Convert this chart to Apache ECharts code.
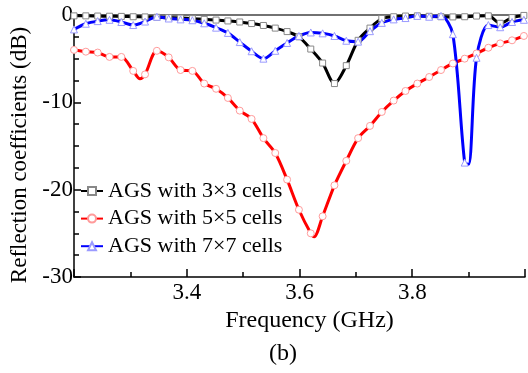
<!DOCTYPE html>
<html>
<head>
<meta charset="utf-8">
<script src="https://cdn.jsdelivr.net/npm/echarts@6/dist/echarts.min.js"></script>
<style>
html,body{margin:0;padding:0;background:#fff;}
#chart{width:528px;height:373px;}
</style>
</head>
<body>
<div id="chart"></div>
<script>
// Frequency grid (GHz) at the marker positions
const freqGrid = [3.200, 3.221, 3.242, 3.263, 3.284, 3.305, 3.326, 3.347, 3.368, 3.389,
  3.410, 3.431, 3.452, 3.473, 3.494, 3.515, 3.536, 3.557, 3.578, 3.599,
  3.620, 3.641, 3.662, 3.683, 3.704, 3.725, 3.746, 3.767, 3.788, 3.809,
  3.830, 3.851, 3.872, 3.893, 3.914, 3.935, 3.956, 3.977, 3.998];

// Reflection coefficients (dB)
const db3x3 = [-0.1, -0.1, -0.12, -0.14, -0.16, -0.2, -0.22, -0.26, -0.3, -0.35,
  -0.42, -0.5, -0.58, -0.68, -0.8, -0.98, -1.2, -1.5, -1.9, -2.5,
  -3.9, -5.5, -7.85, -5.8, -2.9, -1.5, -0.4, -0.2, -0.12, -0.1,
  -0.15, -0.2, -0.22, -0.2, -0.12, -0.1, -0.95, -0.3, -0.05];

const db5x5 = [-4.0, -4.2, -4.3, -4.8, -4.8, -6.4, -6.8, -4.1, -4.85, -6.3,
  -6.4, -7.85, -8.45, -9.5, -10.95, -11.9, -14.1, -15.8, -18.85, -22.3,
  -25.0, -23.05, -19.5, -16.7, -14.1, -12.7, -11.1, -9.8, -8.7, -7.85,
  -7.1, -6.3, -5.55, -5.0, -4.4, -3.75, -3.25, -2.9, -2.4];

const db7x7 = [-1.65, -1.0, -0.7, -0.55, -0.8, -1.15, -0.75, -0.2, -0.4, -0.5,
  -0.6, -0.95, -1.45, -2.05, -3.1, -4.15, -5.0, -4.1, -3.2, -2.4,
  -2.0, -2.1, -2.4, -2.95, -3.05, -1.85, -0.9, -0.5, -0.35, -0.1,
  -0.2, -0.1, -2.2, -16.9, -4.9, -1.15, -1.4, -0.8, -0.55];

// Extra curve points between markers (line only)
const extraFreq5x5 = [3.317, 3.626];
const extraDb5x5 = [-7.3, -25.4];
const extraFreq7x7 = [3.900];
const extraDb7x7 = [-17.1];

const seriesNames = ['AGS with 3×3 cells', 'AGS with 5×5 cells', 'AGS with 7×7 cells'];
const xTicks = [3.4, 3.6, 3.8];
const yTicks = [0, -10, -20, -30];

function build(dbs, exF, exD) {
  const pts = freqGrid.map((f, i) => ({ value: [f, dbs[i]] }));
  (exF || []).forEach((f, i) => pts.push({ value: [f, exD[i]], symbolSize: 0 }));
  pts.sort((a, b) => a.value[0] - b.value[0]);
  return pts;
}

const FONT = 'Liberation Serif';
const chart = echarts.init(document.getElementById('chart'));

function lineSeries(name, data, color, symbol, symColor, size) {
  return {
    name: name, type: 'line', data: data, smooth: 0.3,
    showAllSymbol: true, symbol: symbol, symbolSize: size,
    lineStyle: { color: color, width: 3 },
    itemStyle: { color: '#fff', borderColor: symColor, borderWidth: 1 },
    emphasis: { disabled: true },
    animation: false
  };
}

chart.setOption({
  animation: false,
  grid: { left: 73, right: 1, top: 15, bottom: 96 },
  legend: {
    left: 75, top: 175, orient: 'vertical',
    itemWidth: 22, itemHeight: 10, itemGap: 5.6,
    textStyle: { fontFamily: FONT, fontSize: 22, color: '#000', lineHeight: 22 },
    data: seriesNames.map(n => ({ name: n }))
  },
  xAxis: [{
    type: 'value', min: 3.2, max: 4.0, interval: 0.2,
    name: 'Frequency (GHz)', nameLocation: 'middle', nameGap: 32,
    nameTextStyle: { fontFamily: FONT, fontSize: 24, color: '#000', padding: [0, 0, 0, 20] },
    axisLine: { onZero: false, lineStyle: { color: '#000', width: 1.5 } },
    axisTick: { inside: true, length: 8, lineStyle: { color: '#000', width: 1.5 } },
    minorTick: { show: true, splitNumber: 2, length: 5, lineStyle: { color: '#000', width: 1.5 } },
    splitLine: { show: false },
    axisLabel: {
      fontFamily: FONT, fontSize: 23, color: '#000', margin: 4,
      formatter: v => { const t = xTicks.find(x => Math.abs(x - v) < 1e-6); return t === undefined ? '' : t.toFixed(1); }
    }
  }, {
    type: 'value', position: 'top', min: 3.2, max: 4.0,
    axisLine: { show: true, lineStyle: { color: '#444', width: 1.5 } },
    axisTick: { show: false }, axisLabel: { show: false }, splitLine: { show: false }
  }],
  yAxis: {
    type: 'value', min: -30, max: 0, interval: 10,
    name: 'Reflection coefficients (dB)', nameLocation: 'middle', nameGap: 43,
    nameTextStyle: { fontFamily: FONT, fontSize: 23, color: '#000', padding: [0, 18, 0, 0] },
    axisLine: { onZero: false, lineStyle: { color: '#000', width: 1.5 } },
    axisTick: { inside: true, length: 7, lineStyle: { color: '#000', width: 1.5 } },
    minorTick: { show: true, splitNumber: 4, length: 5, lineStyle: { color: '#000', width: 1.5 } },
    splitLine: { show: false },
    axisLabel: {
      fontFamily: FONT, fontSize: 23, color: '#000', margin: 1,
      formatter: v => { const t = yTicks.find(y => Math.abs(y - v) < 1e-6); return t === undefined ? '' : String(t); }
    }
  },
  graphic: [{
    type: 'text', left: 269, top: 342,
    style: { text: '(b)', font: '24px "Liberation Serif"', fill: '#000' }
  }],
  series: [
    lineSeries(seriesNames[0], build(db3x3), '#000', 'rect', '#888', 6),
    lineSeries(seriesNames[1], build(db5x5, extraFreq5x5, extraDb5x5), '#ff0000', 'circle', '#ff9a9a', 7),
    lineSeries(seriesNames[2], build(db7x7, extraFreq7x7, extraDb7x7), '#0000ff', 'triangle', '#9a9aff', 7)
  ]
});
</script>
</body>
</html>
